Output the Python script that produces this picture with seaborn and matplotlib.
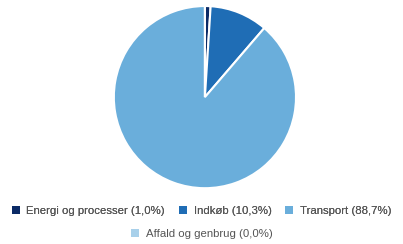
import matplotlib
matplotlib.use("Agg")
import matplotlib.pyplot as plt
import seaborn as sns
from matplotlib.patches import Patch

# data
labels = ["Energi og processer (1,0%)", "Indkøb (10,3%)", "Transport (88,7%)", "Affald og genbrug (0,0%)"]
values = [1.0, 10.3, 88.7, 0.0]
colors = ["#0b2a66", "#1f6db5", "#6aaedb", "#a8d0ea"]

sns.set_theme(style="white")
plt.rcParams["font.family"] = ["Liberation Sans", "DejaVu Sans"]

fig = plt.figure(figsize=(4.03, 2.44), dpi=100)
ax = fig.add_axes([0.280, 0.225, 0.457, 0.754])
ax.pie(values, colors=colors, startangle=90, counterclock=False,
       wedgeprops=dict(edgecolor="white", linewidth=1.5))
ax.set_xlim(-1.01, 1.01)
ax.set_ylim(-1.01, 1.01)
ax.set_aspect("equal")

handles = [Patch(facecolor=c, edgecolor="none") for c in colors]
leg1 = fig.legend(handles[:3], labels[:3], loc="center", bbox_to_anchor=(0.5, 1 - 211 / 244),
                  ncol=3, frameon=False, fontsize=8.2, handlelength=0.7, handleheight=0.7,
                  handletextpad=0.6, columnspacing=1.2, labelcolor="#555555")
fig.add_artist(leg1)
fig.legend(handles[3:], labels[3:], loc="center", bbox_to_anchor=(0.5, 1 - 234 / 244),
           ncol=1, frameon=False, fontsize=8.2, handlelength=0.7, handleheight=0.7,
           handletextpad=0.6, labelcolor="#555555")

fig.savefig("out.png", dpi=100)
